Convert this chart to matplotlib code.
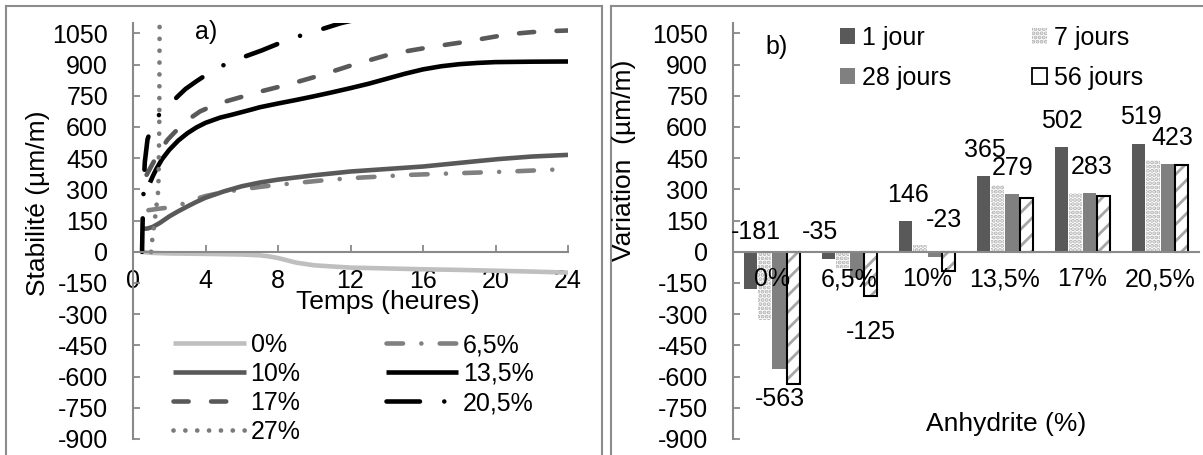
import matplotlib
matplotlib.use("Agg")
import matplotlib.pyplot as plt
from matplotlib.lines import Line2D
from matplotlib.patches import Patch

plt.rcParams['font.family'] = ['Liberation Sans', 'DejaVu Sans']
plt.rcParams['axes.unicode_minus'] = False
plt.rcParams['hatch.linewidth'] = 2.0

W, H = 1203, 455

# --- a) stabilité dimensionnelle en fonction du temps ---
t_0 = [0.4, 1, 2, 4, 6, 7, 7.5, 8, 9, 10, 12, 14, 16, 18, 20, 22, 24]
v_0 = [0, -5, -8, -10, -13, -17, -22, -30, -52, -65, -76, -80, -84, -87, -91, -95, -100]

t_65 = [0.85, 1.5, 2.2, 2.6, 3, 3.5, 4, 5, 6, 7, 8, 10.3, 12, 15.3, 18, 20.8, 24]
v_65 = [200, 208, 215, 225, 240, 255, 268, 287, 300, 312, 322, 342, 354, 370, 378, 386, 398]

t_10 = [0.5, 0.8, 1.1, 1.5, 2, 2.5, 3, 3.5, 4, 5, 6, 7, 8, 10, 12, 14, 16, 17.5,
        19, 20.2, 22, 24]
v_10 = [110, 112, 120, 140, 170, 195, 218, 240, 260, 290, 315, 333, 347, 368, 386,
        398, 410, 423, 436, 446, 458, 466]

t_135 = [0.94, 1.1, 1.3, 1.6, 2.0, 2.5, 3, 3.5, 4, 4.8, 5.5, 6.5, 7, 8, 9, 10, 11,
         12, 13, 14, 15, 16, 17, 18, 19, 20, 22, 24]
v_135 = [333, 365, 400, 445, 490, 535, 570, 598, 620, 645, 660, 683, 695, 713, 730,
         748, 767, 787, 808, 832, 856, 877, 892, 902, 908, 912, 914, 915]

t_17 = [0.75, 1.0, 1.3, 1.6, 1.9, 2.3, 2.8, 3.2, 3.7, 4.3, 5, 6, 7, 8, 9, 10, 11,
        12, 13, 14, 15, 16, 17, 18, 19, 20, 21, 22, 23, 24]
v_17 = [370, 410, 458, 500, 538, 575, 615, 645, 675, 698, 720, 745, 770, 792, 815,
        840, 867, 895, 920, 945, 963, 978, 992, 1005, 1020, 1035, 1048, 1056, 1061,
        1064]

t_205 = [0.5, 0.52, 0.55, 0.6, 0.65, 0.8, 1.1, 1.5, 2.0, 2.5, 2.9, 3.5, 4.2, 4.8,
         5.9, 7.1, 8, 9.2, 10.4, 11.5, 13, 16, 20, 24]
v_205 = [0, 100, 215, 330, 430, 540, 620, 665, 706, 750, 783, 820, 860, 890, 930,
         968, 1000, 1038, 1070, 1100, 1130, 1175, 1215, 1245]

t_27 = [1.0, 1.05, 1.2, 1.4, 1.45, 1.46, 1.47]
v_27 = [0, 50, 150, 300, 600, 900, 1150]

# --- b) variation par teneur en anhydrite ---
categories = ['0%', '6,5%', '10%', '13,5%', '17%', '20,5%']
jour_1 = [-181, -35, 146, 365, 502, 519]
jours_7 = [-326, -80, 32, 322, 285, 441]
jours_28 = [-563, -125, -23, 279, 283, 423]
jours_56 = [-635, -213, -94, 258, 269, 419]

y_ticks = list(range(-900, 1051, 150))

fig = plt.figure(figsize=(W / 100, H / 100), dpi=100)


def px_box(x0, y0, x1, y1):
    return [x0 / W, 1 - y1 / H, (x1 - x0) / W, (y1 - y0) / H]


axis_grey = '#898989'
fs = 18


def style_axes(ax, xpad):
    for side in ('top', 'right'):
        ax.spines[side].set_visible(False)
    for side in ('left', 'bottom'):
        ax.spines[side].set_color(axis_grey)
        ax.spines[side].set_linewidth(1.5)
    ax.spines['bottom'].set_position(('data', 0))
    ax.set_ylim(-900, 1100)
    ax.set_yticks(y_ticks)
    ax.tick_params(axis='y', direction='in', length=5, width=1.3, color=axis_grey,
                   labelsize=fs, pad=18)
    ax.tick_params(axis='x', direction='in', length=5, width=1.3, color=axis_grey,
                   labelsize=fs, pad=xpad)
    ax.set_facecolor('none')


# left panel: curves
ax1 = fig.add_axes(px_box(133, 23, 568, 439))
style_axes(ax1, 12.5)
ax1.set_xlim(0, 24)
ax1.set_xticks(range(0, 25, 4))

lw = 3.3
ax1.plot(t_0, v_0, color='#bfbfbf', lw=lw, solid_capstyle='butt', label='0%')
ax1.plot(t_65, v_65, color='#808080', lw=lw, dash_capstyle='round',
         dashes=(3.6, 4.0, 0.01, 4.0), label='6,5%')
ax1.plot(t_10, v_10, color='#595959', lw=lw, solid_capstyle='butt', label='10%')
ax1.plot(t_135, v_135, color='black', lw=lw, solid_capstyle='butt', label='13,5%')
ax1.plot(t_17, v_17, color='#595959', lw=lw, dash_capstyle='round',
         dashes=(3.3, 4.9), label='17%')
ax1.plot(t_205, v_205, color='black', lw=lw, dash_capstyle='round',
         dashes=(7.3, 5.3, 0.01, 5.3), label='20,5%')
ax1.plot(t_27, v_27, color='#7a7a7a', lw=3.4, dash_capstyle='round',
         dashes=(0.01, 2.5), label='27%')

ax1.text(206 / W, 1 - 32 / H, 'a)', transform=fig.transFigure, fontsize=fs,
         ha='center', va='center')

h1, l1 = ax1.get_legend_handles_labels()
order = [0, 2, 4, 6, 1, 3, 5]
fig.legend([h1[i] for i in order], [l1[i] for i in order], ncol=2,
           loc='upper left', bbox_to_anchor=(173 / W, 1 - 333 / H),
           bbox_transform=fig.transFigure, frameon=False, fontsize=fs,
           handlelength=2.9, handletextpad=0.2, columnspacing=3.4,
           labelspacing=0.2, borderpad=0, borderaxespad=0)

fig.text(388 / W, 1 - 302 / H, 'Temps (heures)', fontsize=19, ha='center', va='center')
fig.text(38 / W, 1 - 203 / H, 'Stabilité (µm/m)', fontsize=19, rotation=90,
         ha='center', va='center')

# right panel: bars
ax2 = fig.add_axes(px_box(733, 23, 1199, 439))
style_axes(ax2, 11)
ax2.set_xlim(-0.5, len(categories) - 0.5)
ax2.set_xticks(range(len(categories)))
ax2.set_xticklabels(categories)
ax2.tick_params(axis='x', length=0)

bw = 0.168
step = 0.184
xs = list(range(len(categories)))
x1 = [x - 1.5 * step for x in xs]
x7 = [x - 0.5 * step for x in xs]
x28 = [x + 0.5 * step for x in xs]
x56 = [x + 1.5 * step for x in xs]

ax2.bar(x1, jour_1, bw, color='#595959', lw=0)
ax2.bar(x7, jours_7, bw, color='white', edgecolor='#b0b0b0', hatch='....', lw=0)
ax2.bar(x28, jours_28, bw, color='#808080', lw=0)
ax2.bar(x56, jours_56, bw, color='white', edgecolor='#a6a6a6', hatch='//', lw=0)
ax2.bar(x56, jours_56, bw, fill=False, edgecolor='black', lw=1.5)

# data labels (1 jour and 28 jours), nudged in pixels
lab1_nudge = [(6, 57), (-8, 27), (2, 26), (1, 26), (1, 26), (2, 27)]
lab28_nudge = [(1, -30), (14, -54), (10, 37), (1, 26), (2, 26), (5, 26)]
for xx, v, (dx, dy) in zip(x1, jour_1, lab1_nudge):
    ax2.annotate(str(v), (xx, v), xytext=(dx, dy), textcoords='offset pixels',
                 ha='center', va='center', fontsize=fs)
for xx, v, (dx, dy) in zip(x28, jours_28, lab28_nudge):
    ax2.annotate(str(v), (xx, v), xytext=(dx, dy), textcoords='offset pixels',
                 ha='center', va='center', fontsize=fs)

ax2.text(777 / W, 1 - 47 / H, 'b)', transform=fig.transFigure, fontsize=fs,
         ha='center', va='center')

leg_handles = [
    Patch(facecolor='#595959', lw=0),
    Patch(facecolor='#808080', lw=0),
    Patch(facecolor='white', edgecolor='#b0b0b0', hatch='....', lw=0),
    Patch(facecolor='white', edgecolor='black', lw=1.3),
]
fig.legend(leg_handles, ['1 jour', '28 jours', '7 jours', '56 jours'], ncol=2,
           loc='upper left', bbox_to_anchor=(840 / W, 1 - 26 / H),
           bbox_transform=fig.transFigure, frameon=False, fontsize=fs,
           handlelength=0.6, handleheight=0.6, handletextpad=0.3,
           columnspacing=3.2, labelspacing=0.62, borderpad=0, borderaxespad=0)

fig.text(1006 / W, 1 - 424 / H, 'Anhydrite (%)', fontsize=19, ha='center', va='center')
fig.text(624 / W, 1 - 160 / H, 'Variation  (µm/m)', fontsize=19, rotation=90,
         ha='center', va='center')

# panel frames
frame_kw = dict(color='#8c8c8c', lw=1.5, transform=fig.transFigure)
for xa, ya, xb, yb in [(5.5, 5.5, 602, 5.5), (5.5, 5.5, 5.5, 455),
                       (602, 5.5, 602, 455), (611, 5.5, 1203, 5.5),
                       (611, 5.5, 611, 455)]:
    fig.add_artist(Line2D([xa / W, xb / W], [1 - ya / H, 1 - yb / H], **frame_kw))

fig.savefig('out.png', dpi=100)
